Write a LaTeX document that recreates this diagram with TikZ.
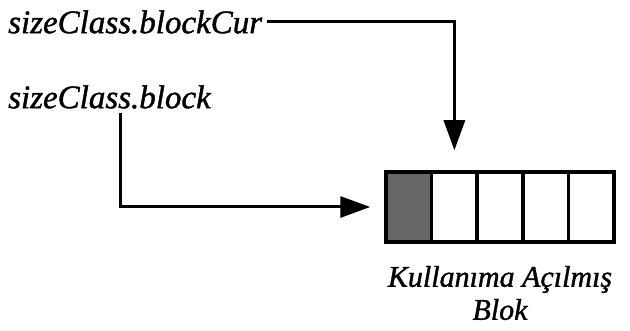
\documentclass[tikz,border=0pt]{standalone}
\usepackage{fontspec}
\setmainfont{Liberation Serif}
\newfontfamily\lblfont[FakeBold=1.2]{Liberation Serif Italic}
\usepackage{tikz}
\usetikzlibrary{arrows.meta}
\definecolor{usedgray}{HTML}{666666}
\tikzset{
	lbl/.style={inner sep=5pt, font=\fontsize{33}{34}\lblfont},
	cellbox/.style={draw, line width=3.5pt, minimum width=45.6pt, minimum height=70pt, inner sep=0pt},
	ptr/.style={line width=3pt, -{Triangle[length=30pt,width=21pt]}}
}
\begin{document}
\begin{tikzpicture}[x=1pt,y=-1pt]
	\useasboundingbox (0,0) rectangle (630,331);
	\node[lbl, anchor=west] (cur) at (3,22) {sizeClass.blockCur};
	\node[lbl, anchor=west] (blk) at (3,97) {sizeClass.block};
	\coordinate (bstart) at (120,113);
	%
	\foreach \i in {1,...,5}
		\node[cellbox] (cell\i) at (386+45.6*\i-22.8,207) {};
	\fill [usedgray] (cell1.north west) rectangle (cell1.south east);
	\foreach \i in {1,...,5}
		\node[cellbox] at (cell\i) {};
	\node[lbl, align=center, font=\fontsize{30}{33}\lblfont] (used) at (500,293) {Kullanıma Açılmış\\Blok};
	%
	\draw [ptr, shorten >=20pt] (cur.east) -| (cell2.north);
	\draw [ptr, shorten >=14pt] (bstart) |- (cell1.west);
\end{tikzpicture}
\end{document}
